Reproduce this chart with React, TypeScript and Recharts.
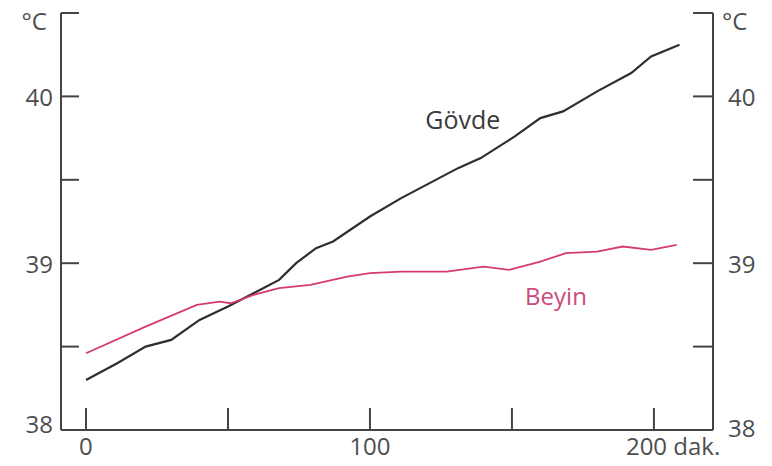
import { LineChart, Line, XAxis, YAxis, ReferenceDot } from "recharts";

// minutes
const govdeMin = [0, 11, 21, 30, 40, 50, 59, 68, 74, 81, 87, 100, 111, 121, 131, 139, 151, 160, 168, 180, 192, 199, 209];
// °C
const govdeTemp = [38.3, 38.4, 38.5, 38.54, 38.66, 38.74, 38.82, 38.9, 39.0, 39.09, 39.13, 39.28, 39.39, 39.48, 39.57, 39.63, 39.76, 39.87, 39.91, 40.03, 40.14, 40.24, 40.31];

const beyinMin = [0, 21, 39, 47, 51, 59, 68, 79, 92, 100, 111, 115, 127, 140, 149, 160, 169, 180, 189, 199, 208];
const beyinTemp = [38.46, 38.62, 38.75, 38.77, 38.76, 38.81, 38.85, 38.87, 38.92, 38.94, 38.95, 38.95, 38.95, 38.98, 38.96, 39.01, 39.06, 39.07, 39.1, 39.08, 39.11];

const xTicks = [0, 50, 100, 150, 200];
const xLabels: Record<string, string> = { "0": "0", "100": "100", "200": "200 dak." };
const yTicks = [38, 38.5, 39, 39.5, 40, 40.5];
const yLabels: Record<string, string> = { "38": "38", "39": "39", "40": "40", "40.5": "°C" };

const govde = govdeMin.map((m, i) => ({ min: m, temp: govdeTemp[i] }));
const beyin = beyinMin.map((m, i) => ({ min: m, temp: beyinTemp[i] }));

const AXIS = "#444";
const TEXT = "#4d4d4d";
const FONT = "'Open Sans', sans-serif";

function LeftTick(props: any) {
  const { x, y, payload } = props;
  const v = payload.value;
  const label = yLabels[String(v)];
  const dy = v === 38 ? -7 : v === 40.5 ? 7 : 0;
  const dx = v === 40.5 ? 14 : 8;
  return (
    <g>
      {v !== 38 && <line x1={x} y1={y} x2={x + 18} y2={y} stroke={AXIS} strokeWidth={2} />}
      {label && (
        <text x={x - dx} y={y + dy} textAnchor="end" dominantBaseline="central" fill={TEXT} fontSize={24} fontFamily={FONT}>
          {label}
        </text>
      )}
    </g>
  );
}

function RightTick(props: any) {
  const { x, y, payload } = props;
  const v = payload.value;
  const label = yLabels[String(v)];
  const dy = v === 38 ? -3 : v === 40.5 ? 7 : 0;
  const dx = v === 40.5 ? 9 : 15;
  return (
    <g>
      {v !== 38 && <line x1={x - 20} y1={y} x2={x} y2={y} stroke={AXIS} strokeWidth={2} />}
      {label && (
        <text x={x + dx} y={y + dy} textAnchor="start" dominantBaseline="central" fill={TEXT} fontSize={24} fontFamily={FONT}>
          {label}
        </text>
      )}
    </g>
  );
}

function BottomTick(props: any) {
  const { x, y, payload } = props;
  const v = payload.value;
  const label = xLabels[String(v)];
  const wide = v === 200;
  return (
    <g>
      <line x1={x} y1={y} x2={x} y2={y - 22} stroke={AXIS} strokeWidth={2} />
      {label && (
        <text
          x={wide ? x - 28 : x}
          y={y + 15}
          textAnchor={wide ? "start" : "middle"}
          dominantBaseline="central"
          fill={TEXT}
          fontSize={24}
          fontFamily={FONT}
        >
          {label}
        </text>
      )}
    </g>
  );
}

export default function App() {
  return (
    <div style={{ position: "absolute", left: 0, top: 0, background: "#fff" }}>
      <LineChart width={772} height={466} margin={{ top: 13, right: 0, bottom: 0, left: 0 }}>
        <XAxis
          type="number"
          dataKey="min"
          domain={[-8.8, 220.8]}
          ticks={xTicks}
          height={36}
          tickSize={0}
          tickMargin={0}
          tickLine={false}
          axisLine={{ stroke: AXIS, strokeWidth: 2 }}
          tick={<BottomTick />}
          interval={0}
          allowDataOverflow
        />
        <YAxis
          yAxisId="left"
          type="number"
          domain={[38, 40.5]}
          ticks={yTicks}
          width={61}
          tickSize={0}
          tickMargin={0}
          tickLine={false}
          axisLine={{ stroke: AXIS, strokeWidth: 2 }}
          tick={<LeftTick />}
          interval={0}
        />
        <YAxis
          yAxisId="right"
          orientation="right"
          type="number"
          domain={[38, 40.5]}
          ticks={yTicks}
          width={59}
          tickSize={0}
          tickMargin={0}
          tickLine={false}
          axisLine={{ stroke: AXIS, strokeWidth: 2 }}
          tick={<RightTick />}
          interval={0}
        />
        <Line
          yAxisId="left"
          data={govde}
          dataKey="temp"
          type="linear"
          stroke="#2e2e2e"
          strokeWidth={2.2}
          dot={false}
          isAnimationActive={false}
        />
        {/* same scale as the left axis; keeps the right axis bound to a series */}
        <Line
          yAxisId="right"
          data={beyin}
          dataKey="temp"
          type="linear"
          stroke="#d63a72"
          strokeWidth={1.8}
          dot={false}
          isAnimationActive={false}
        />
        <ReferenceDot
          yAxisId="left"
          x={132.7}
          y={39.86}
          r={0}
          fill="none"
          stroke="none"
          label={{ value: "Gövde", position: "center", fill: "#3a3a3a", fontSize: 25, fontFamily: FONT }}
        />
        <ReferenceDot
          yAxisId="right"
          x={165.5}
          y={38.8}
          r={0}
          fill="none"
          stroke="none"
          label={{ value: "Beyin", position: "center", fill: "#cc4a7c", fontSize: 24, fontFamily: FONT }}
        />
      </LineChart>
    </div>
  );
}
